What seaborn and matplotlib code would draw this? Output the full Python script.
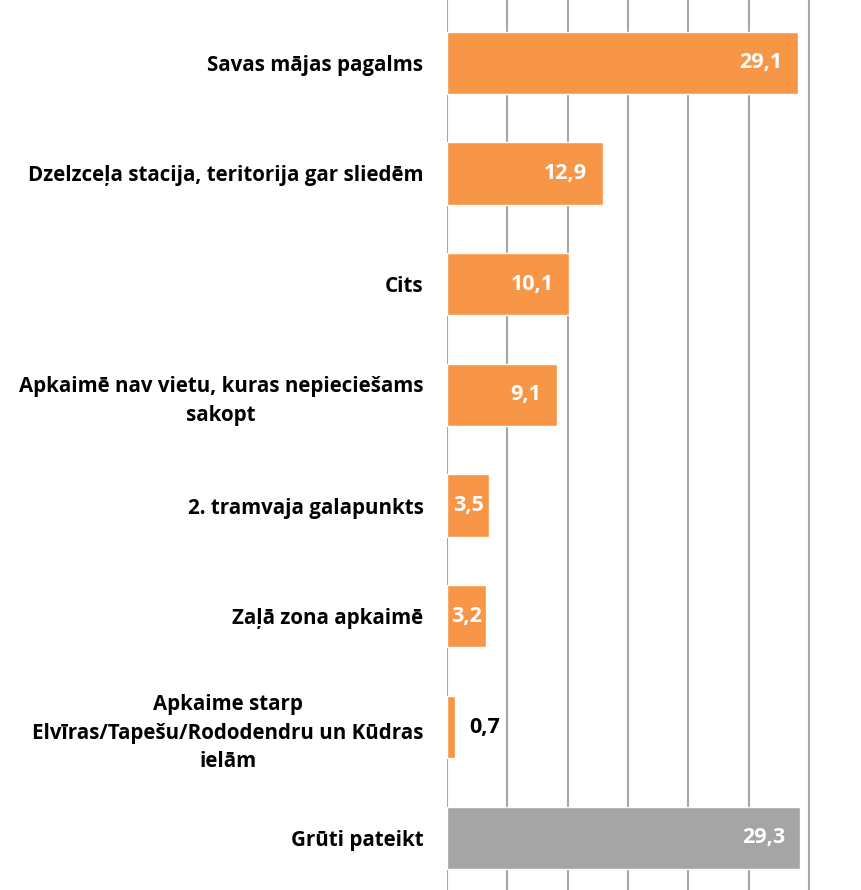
import matplotlib
matplotlib.use("Agg")
import matplotlib.pyplot as plt
import numpy as np
import pandas as pd
import seaborn as sns

# Dati
kategorijas = [
    "Savas mājas pagalms",
    "Dzelzceļa stacija, teritorija gar sliedēm",
    "Cits",
    "Apkaimē nav vietu, kuras nepieciešams\nsakopt",
    "2. tramvaja galapunkts",
    "Zaļā zona apkaimē",
    "Apkaime starp\nElvīras/Tapešu/Rododendru un Kūdras\nielām",
    "Grūti pateikt",
]
vertibas = [29.1, 12.9, 10.1, 9.1, 3.5, 3.2, 0.7, 29.3]
krasas = ["#F79646"] * 7 + ["#A5A5A5"]

sns.set_theme(style="white")
plt.rcParams["font.family"] = ["Open Sans", "DejaVu Sans"]

df = pd.DataFrame({"kategorija": kategorijas, "vertiba": vertibas})

fig = plt.figure(figsize=(8.61, 8.90), dpi=100)
ax = fig.add_axes([447 / 861, 0, 1 - 447 / 861, 1])

sns.barplot(data=df, x="vertiba", y="kategorija", hue="kategorija",
            palette=krasas, legend=False, width=0.563, saturation=1,
            orient="h", ax=ax)

ax.set_xlim(0, (861 - 447) / 12.06)
ax.set_ylim(7.472, -0.567)
ax.set_xticks(np.arange(0, 31, 5))
ax.set_xticklabels([])
ax.set_axisbelow(True)
ax.grid(axis="x", color="#A6A6A6", linewidth=1.5)
ax.grid(axis="y", visible=False)
for s in ax.spines.values():
    s.set_visible(False)
ax.set_xlabel("")
ax.set_ylabel("")
ax.tick_params(axis="both", length=0)
ax.tick_params(axis="y", pad=17)
for lbl in ax.get_yticklabels():
    lbl.set_fontsize(14.8)
    lbl.set_fontweight("bold")
    lbl.set_multialignment("center")
    lbl.set_linespacing(1.45)
    lbl.set_color("black")

# Vērtību etiķetes
for i, v in enumerate(vertibas):
    teksts = f"{v:.1f}".replace(".", ",")
    if v < 2:
        ax.annotate(teksts, (v, i), xytext=(10, 0), textcoords="offset points",
                    ha="left", va="center", fontsize=15.5, fontweight="bold",
                    color="black")
    elif v < 5:
        ax.annotate(teksts, (v / 2, i), ha="center", va="center",
                    fontsize=15.5, fontweight="bold", color="white")
    else:
        ax.annotate(teksts, (v, i), xytext=(-11, 0), textcoords="offset points",
                    ha="right", va="center", fontsize=15.5, fontweight="bold",
                    color="white")

fig.savefig("out.png", dpi=100)
